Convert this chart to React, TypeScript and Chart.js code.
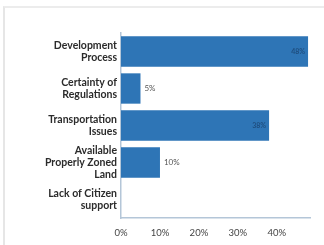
import React, { useEffect, useRef } from "react";
import { Chart, registerables } from "chart.js";

Chart.register(...registerables);

const categories: string[][] = [
  ["Development", "Process"],
  ["Certainty of", "Regulations"],
  ["Transportation", "Issues"],
  ["Available", "Properly Zoned", "Land"],
  ["Lack of Citizen", "support"],
];
const values: number[] = [48, 5, 38, 10, 0];
const tickValues: number[] = [0, 10, 20, 30, 40];
const axisMax = 48.5;

const FONT = "Lato, 'Open Sans', sans-serif";

const labelPlugin = {
  id: "barLabels",
  afterDatasetsDraw(chart: any) {
    const ctx = chart.ctx;
    const meta = chart.getDatasetMeta(0);
    meta.data.forEach((bar: any, i: number) => {
      const v = values[i];
      if (!v) return;
      ctx.save();
      ctx.textBaseline = "middle";
      if (v > 20) {
        ctx.font = `bold 7px ${FONT}`;
        ctx.fillStyle = "#1f4f80";
        ctx.textAlign = "right";
        ctx.fillText(v + "%", bar.x - 3, bar.y);
      } else {
        ctx.font = `8px ${FONT}`;
        ctx.fillStyle = "#555";
        ctx.textAlign = "left";
        ctx.fillText(v + "%", bar.x + 4, bar.y);
      }
      ctx.restore();
    });
  },
};

export default function App() {
  const ref = useRef<HTMLCanvasElement | null>(null);
  useEffect(() => {
    if (!ref.current) return;
    const chart = new Chart(ref.current, {
      type: "bar",
      data: {
        labels: categories,
        datasets: [
          {
            data: values,
            backgroundColor: "#2E75B6",
            barPercentage: 0.82,
            categoryPercentage: 1,
          },
        ],
      },
      options: {
        indexAxis: "y",
        animation: false,
        responsive: false,
        maintainAspectRatio: false,
        layout: { padding: { left: 0, top: 33, right: 14, bottom: 0 } },
        plugins: { legend: { display: false }, tooltip: { enabled: false } },
        scales: {
          x: {
            min: 0,
            max: axisMax,
            afterBuildTicks: (axis: any) => {
              axis.ticks = tickValues.map((v) => ({ value: v }));
            },
            afterFit: (scale: any) => {
              scale.height = 27;
            },
            grid: { display: false, drawTicks: false },
            border: { display: true, color: "#b4c6d8", width: 1.5 },
            ticks: {
              padding: 9,
              color: "#444",
              font: { family: FONT, size: 9.5 },
              callback: (v: any) => v + "%",
            },
          },
          y: {
            afterFit: (scale: any) => {
              scale.width = 121;
            },
            grid: { display: false, drawTicks: false },
            border: { display: true, color: "#b4c6d8", width: 1.5 },
            ticks: {
              autoSkip: false,
              padding: 4,
              color: "#2b2b2b",
              font: { family: FONT, size: 10.5, weight: "bold", lineHeight: 1.15 },
            },
          },
        },
      },
      plugins: [labelPlugin],
    });
    return () => chart.destroy();
  }, []);
  return (
    <div style={{ position: "fixed", left: 0, top: 0, width: 324, height: 245, background: "#fff" }}>
      <div
        style={{
          position: "absolute",
          left: 3,
          top: 6,
          right: 0,
          bottom: 0,
          borderLeft: "2px solid #e6e6e6",
          borderTop: "2px solid #ececec",
        }}
      />
      <canvas ref={ref} width={324} height={245} style={{ position: "absolute", left: 0, top: 0 }} />
    </div>
  );
}
